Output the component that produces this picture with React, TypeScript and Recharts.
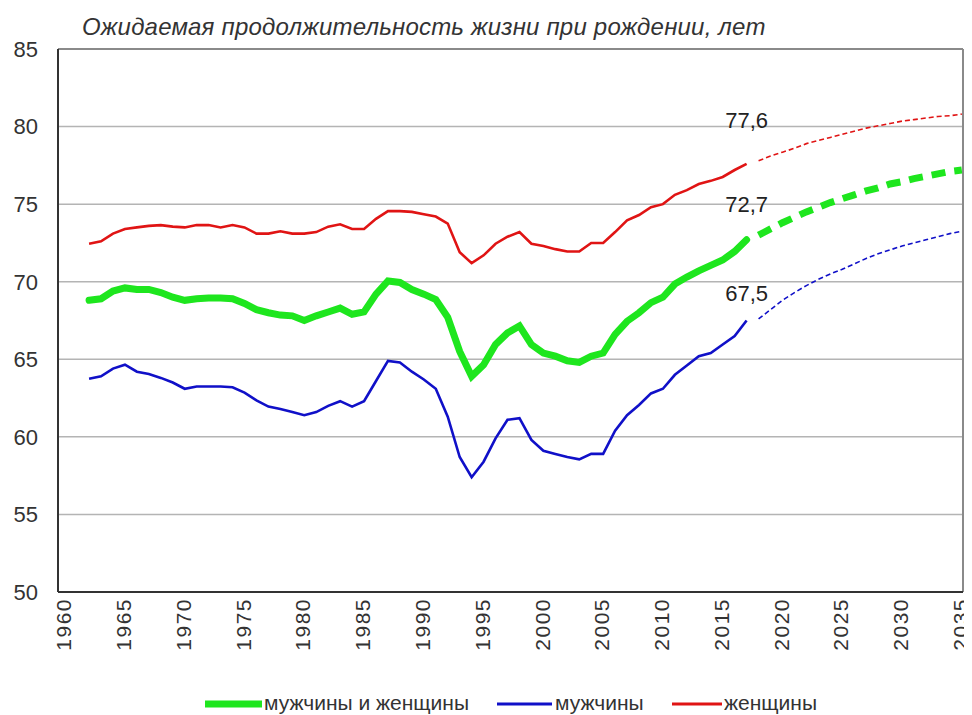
import React from "react";
import {
  LineChart,
  Line,
  XAxis,
  YAxis,
  CartesianGrid,
  ReferenceLine,
  LabelList,
} from "recharts";

// fact, 1962–2017
const years = [
  1962, 1963, 1964, 1965, 1966, 1967, 1968, 1969, 1970, 1971,
  1972, 1973, 1974, 1975, 1976, 1977, 1978, 1979, 1980, 1981,
  1982, 1983, 1984, 1985, 1986, 1987, 1988, 1989, 1990, 1991,
  1992, 1993, 1994, 1995, 1996, 1997, 1998, 1999, 2000, 2001,
  2002, 2003, 2004, 2005, 2006, 2007, 2008, 2009, 2010, 2011,
  2012, 2013, 2014, 2015, 2016, 2017,
];
const women = [
  72.45, 72.6, 73.1, 73.4, 73.5, 73.6, 73.65, 73.55, 73.5, 73.65,
  73.65, 73.5, 73.65, 73.5, 73.1, 73.1, 73.25, 73.1, 73.1, 73.2,
  73.55, 73.7, 73.4, 73.4, 74.05, 74.55, 74.55, 74.5, 74.35, 74.2,
  73.75, 71.9, 71.2, 71.7, 72.45, 72.9, 73.2, 72.45, 72.3, 72.1,
  71.95, 71.95, 72.5, 72.5, 73.2, 73.95, 74.3, 74.8, 75.0, 75.6,
  75.9, 76.3, 76.5, 76.75, 77.2, 77.6,
];
const both = [
  68.8, 68.9, 69.4, 69.6, 69.5, 69.5, 69.3, 69.0, 68.8, 68.9,
  68.95, 68.95, 68.9, 68.6, 68.2, 68.0, 67.85, 67.8, 67.5, 67.8,
  68.05, 68.3, 67.9, 68.05, 69.2, 70.05, 69.95, 69.5, 69.2, 68.85,
  67.7, 65.5, 63.9, 64.65, 65.95, 66.7, 67.15, 65.95, 65.4, 65.2,
  64.9, 64.8, 65.2, 65.4, 66.6, 67.45, 68.0, 68.65, 69.0, 69.85,
  70.3, 70.7, 71.05, 71.4, 71.95, 72.7,
];
const men = [
  63.75, 63.9, 64.4, 64.65, 64.2, 64.05, 63.8, 63.5, 63.1, 63.25,
  63.25, 63.25, 63.2, 62.85, 62.35, 61.95, 61.8, 61.6, 61.4, 61.6,
  62.0, 62.3, 61.95, 62.3, 63.6, 64.9, 64.8, 64.2, 63.7, 63.1,
  61.3, 58.7, 57.4, 58.4, 59.9, 61.1, 61.2, 59.8, 59.1, 58.9,
  58.7, 58.55, 58.9, 58.9, 60.4, 61.4, 62.05, 62.8, 63.1, 64.0,
  64.6, 65.2, 65.4, 65.95, 66.5, 67.5,
];

// forecast, 2018–2035
const forecastYears = [
  2018, 2019, 2020, 2021, 2022, 2023, 2024, 2025, 2026,
  2027, 2028, 2029, 2030, 2031, 2032, 2033, 2034, 2035,
];
const womenF = [
  77.8, 78.1, 78.35, 78.6, 78.9, 79.1, 79.3, 79.5, 79.7,
  79.9, 80.05, 80.2, 80.35, 80.45, 80.55, 80.65, 80.7, 80.8,
];
const bothF = [
  73.0, 73.4, 73.8, 74.15, 74.5, 74.8, 75.1, 75.35, 75.6,
  75.85, 76.05, 76.3, 76.45, 76.65, 76.8, 76.95, 77.1, 77.2,
];
const menF = [
  67.6, 68.2, 68.8, 69.3, 69.75, 70.15, 70.5, 70.8, 71.15,
  71.5, 71.8, 72.05, 72.3, 72.5, 72.7, 72.9, 73.1, 73.25,
];

const xTicks = [1960, 1965, 1970, 1975, 1980, 1985, 1990, 1995, 2000, 2005, 2010, 2015, 2020, 2025, 2030, 2035];
const yTicks = [50, 55, 60, 65, 70, 75, 80, 85];

const TITLE = "Ожидаемая продолжительность жизни при рождении, лет";
const LEGEND = ["мужчины и женщины", "мужчины", "женщины"];

const GREEN = "#1ee61e";
const BLUE = "#1010c8";
const RED = "#e01414";
const FONT = "'Liberation Sans', Arial, sans-serif";
const X_MIN = 1959.4;
const X_MAX = 2035.1;

const rows = [
  ...years.map((year, i) => ({ year, both: both[i], men: men[i], women: women[i] })),
  ...forecastYears.map((year, i) => ({ year, bothF: bothF[i], menF: menF[i], womenF: womenF[i] })),
];

const lastIdx = years.length - 1;

const endLabel = (lift: number) => (props: any) => {
  const { x, y, value, index } = props;
  if (index !== lastIdx) return null;
  return (
    <text
      x={x}
      y={y - lift}
      textAnchor="middle"
      dominantBaseline="central"
      fontSize={22}
      fontFamily={FONT}
      fill="#222"
    >
      {String(value).replace(".", ",")}
    </text>
  );
};

const YearTick = (props: any) => {
  const { x, y, payload } = props;
  return (
    <g transform={`translate(${x - 1},${y})`}>
      <text
        transform="rotate(-90)"
        x={0}
        y={0}
        dy="0.34em"
        textAnchor="end"
        fontSize={21}
        fontFamily={FONT}
        letterSpacing={1.5}
        fill="#333"
      >
        {payload.value}
      </text>
    </g>
  );
};

const Swatch = ({ color, width, thick }: { color: string; width: number; thick: number }) => (
  <svg width={width} height={12} style={{ display: "block" }}>
    <line x1={0} x2={width} y1={6} y2={6} stroke={color} strokeWidth={thick} />
  </svg>
);

const legendItem = (left: number, textLeft: number, swatch: React.ReactNode, label: string) => (
  <>
    <div style={{ position: "absolute", left, top: 6 }}>{swatch}</div>
    <div style={{ position: "absolute", left: textLeft, top: 0, whiteSpace: "nowrap" }}>{label}</div>
  </>
);

export default function App() {
  return (
    <div style={{ position: "relative", width: 964, height: 707, fontFamily: FONT }}>
      <div
        style={{
          position: "absolute",
          left: 74,
          top: 4,
          fontSize: 24,
          lineHeight: "30px",
          fontStyle: "italic",
          letterSpacing: 0.2,
          color: "#333",
          whiteSpace: "nowrap",
        }}
      >
        {TITLE}
      </div>
      <LineChart
        width={964}
        height={707}
        data={rows}
        margin={{ top: 41, right: 9, bottom: 63, left: 0 }}
      >
        <CartesianGrid vertical={false} stroke="#b4b4b4" strokeWidth={1.5} />
        <XAxis
          dataKey="year"
          type="number"
          domain={[X_MIN, X_MAX]}
          ticks={xTicks}
          allowDataOverflow
          interval={0}
          height={60}
          tickLine={false}
          tickSize={0}
          tickMargin={6}
          axisLine={{ stroke: "#333", strokeWidth: 2 }}
          tick={<YearTick />}
        />
        <YAxis
          domain={[50, 85]}
          ticks={yTicks}
          width={50}
          tickLine={false}
          tickMargin={14}
          axisLine={{ stroke: "#333", strokeWidth: 2 }}
          tick={{ fill: "#333", fontSize: 22, fontFamily: FONT }}
        />
        <ReferenceLine y={85} stroke="#8a8a8a" strokeWidth={2} />
        <ReferenceLine x={X_MAX} stroke="#8a8a8a" strokeWidth={2} />

        <Line dataKey="womenF" stroke={RED} strokeWidth={1.6} strokeDasharray="5 3" dot={false} isAnimationActive={false} />
        <Line dataKey="menF" stroke={BLUE} strokeWidth={1.6} strokeDasharray="5 3" dot={false} isAnimationActive={false} />
        <Line dataKey="bothF" stroke={GREEN} strokeWidth={7} strokeDasharray="14 9" dot={false} isAnimationActive={false} />

        <Line dataKey="women" stroke={RED} strokeWidth={2.6} dot={false} isAnimationActive={false}>
          <LabelList dataKey="women" content={endLabel(43)} />
        </Line>
        <Line dataKey="men" stroke={BLUE} strokeWidth={2.6} dot={false} isAnimationActive={false}>
          <LabelList dataKey="men" content={endLabel(27)} />
        </Line>
        <Line dataKey="both" stroke={GREEN} strokeWidth={7} strokeLinecap="round" dot={false} isAnimationActive={false}>
          <LabelList dataKey="both" content={endLabel(35)} />
        </Line>
      </LineChart>
      <div
        style={{
          position: "absolute",
          left: 0,
          top: 684,
          width: 964,
          height: 22,
          fontSize: 21,
          lineHeight: "22px",
          color: "#333",
        }}
      >
        {legendItem(197, 256, <Swatch color={GREEN} width={57} thick={7} />, LEGEND[0])}
        {legendItem(489, 547, <Swatch color={BLUE} width={55} thick={3} />, LEGEND[1])}
        {legendItem(664, 716, <Swatch color={RED} width={50} thick={3} />, LEGEND[2])}
      </div>
    </div>
  );
}
